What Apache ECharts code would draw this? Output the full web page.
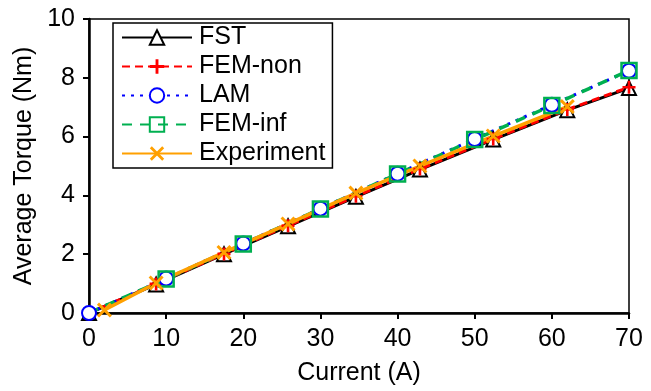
<!DOCTYPE html>
<html>
<head>
<meta charset="utf-8">
<script src="https://cdn.jsdelivr.net/npm/echarts@6/dist/echarts.min.js"></script>
<style>
  html, body { margin: 0; padding: 0; background: #fff; }
  #chart { width: 651px; height: 391px; }
</style>
</head>
<body>
<div id="chart"></div>
<script>
// values
const currentFST = [0, 8.7, 17.5, 25.8, 34.6, 42.9, 52.4, 62, 70];
const torqueFST = [0, 0.97, 2.0, 2.95, 3.95, 4.88, 5.9, 6.9, 7.65];
const torqueFEMnon = [0, 0.99, 2.01, 2.97, 3.97, 4.9, 5.92, 6.92, 7.68];
const currentLAM = [0, 10, 20, 30, 40, 50, 60, 70];
const torqueLAM = [0, 1.17, 2.36, 3.55, 4.74, 5.92, 7.08, 8.24];
const torqueFEMinf = [0, 1.16, 2.35, 3.54, 4.73, 5.9, 7.06, 8.25];
const currentExp = [2, 8.7, 17.5, 25.8, 34.6, 42.9, 52.4, 62];
const torqueExp = [0.1, 1.02, 2.06, 3.03, 4.08, 5.0, 6.02, 7.02];

const pair = (xs, ys) => xs.map((x, i) => [x, ys[i]]);
const FONT = "'Liberation Sans', Arial, sans-serif";
const PLUS = 'path://M4,0H6V10H4Z M0,4H10V6H0Z';
const CROSS = 'path://M0,1.4L1.4,0L10,8.6L8.6,10Z M8.6,0L10,1.4L1.4,10L0,8.6Z';

// the FEM-inf marker at the origin is hidden behind the LAM circle in the original
const femInfData = pair(currentLAM, torqueFEMinf).map((p, i) =>
  i === 0 ? { value: p, symbol: 'none' } : p);

const chart = echarts.init(document.getElementById('chart'), null, { renderer: 'canvas' });
chart.setOption({
  animation: false,
  textStyle: { fontFamily: FONT },
  grid: {
    left: 89, right: 22, top: 19, bottom: 75,
    show: true, borderColor: '#000', borderWidth: 1.5, backgroundColor: 'transparent'
  },
  legend: {
    orient: 'vertical',
    left: 113, top: 23,
    padding: [0, 7, 0, 8],
    itemWidth: 70, itemHeight: 18, itemGap: 0,
    borderColor: '#000', borderWidth: 1.5,
    textStyle: { fontSize: 25, color: '#000', lineHeight: 29, fontFamily: FONT, padding: [0, 0, 0, 2] },
    data: ['FST', 'FEM-non', 'LAM', 'FEM-inf', 'Experiment']
  },
  xAxis: {
    type: 'value', min: 0, max: 70, interval: 10,
    name: 'Current (A)', nameLocation: 'middle', nameGap: 48,
    nameTextStyle: { fontSize: 25, color: '#000', fontFamily: FONT },
    axisLine: { show: true, lineStyle: { color: '#000', width: 2.5 } },
    axisTick: { show: true, inside: false, length: 6, lineStyle: { color: '#000', width: 2 } },
    axisLabel: { fontSize: 25, color: '#000', margin: 14, fontFamily: FONT },
    splitLine: { show: false }
  },
  yAxis: {
    type: 'value', min: 0, max: 10, interval: 2,
    name: 'Average Torque (Nm)', nameLocation: 'middle', nameGap: 43, nameRotate: 90,
    nameTextStyle: { fontSize: 25, color: '#000', fontFamily: FONT },
    axisLine: { show: true, lineStyle: { color: '#000', width: 2.5 } },
    axisTick: { show: true, inside: false, length: 6, lineStyle: { color: '#000', width: 2 } },
    axisLabel: { fontSize: 25, color: '#000', margin: 14, fontFamily: FONT },
    splitLine: { show: false }
  },
  series: [
    {
      name: 'FST', type: 'line', data: pair(currentFST, torqueFST),
      symbol: 'emptyTriangle', symbolSize: 14,
      lineStyle: { color: '#000', width: 3 },
      itemStyle: { color: '#000', borderColor: '#000', borderWidth: 2.5 }
    },
    {
      name: 'FEM-non', type: 'line', data: pair(currentFST, torqueFEMnon),
      symbol: PLUS, symbolSize: 13,
      lineStyle: { color: '#ff0000', width: 3, type: [8, 5] },
      itemStyle: { color: '#ff0000' }
    },
    {
      name: 'LAM', type: 'line', data: pair(currentLAM, torqueLAM),
      symbol: 'emptyCircle', symbolSize: 14,
      lineStyle: { color: '#0000ff', width: 3, type: [3, 6] },
      itemStyle: { color: '#0000ff', borderColor: '#0000ff', borderWidth: 2.5 }
    },
    {
      name: 'FEM-inf', type: 'line', data: femInfData,
      symbol: 'rect', symbolSize: 15,
      lineStyle: { color: '#00b050', width: 3.5, type: [10, 8] },
      itemStyle: { color: 'rgba(0,0,0,0)', borderColor: '#00b050', borderWidth: 2.5 }
    },
    {
      name: 'Experiment', type: 'line', data: pair(currentExp, torqueExp),
      symbol: CROSS, symbolSize: 15,
      lineStyle: { color: '#ffa000', width: 3.5 },
      itemStyle: { color: '#ffa000' }
    }
  ]
});
</script>
</body>
</html>
